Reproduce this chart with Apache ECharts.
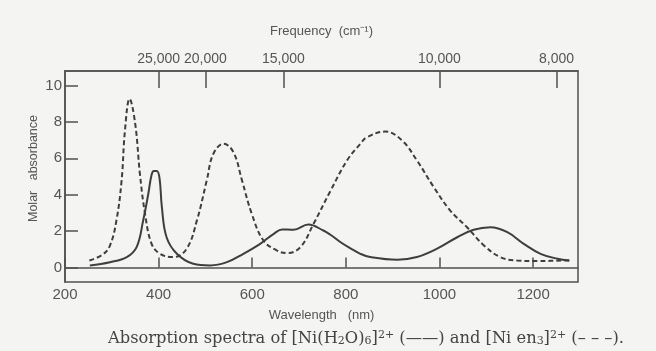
<!DOCTYPE html>
<html><head><meta charset="utf-8">
<script src="https://cdn.jsdelivr.net/npm/echarts@6/dist/echarts.min.js"></script>
<style>html,body{margin:0;padding:0;background:#f4f5f2}#c{width:656px;height:351px}</style>
</head><body><div id="c"></div>
<script>
// [Ni(H2O)6]2+ (solid)
const aquaX = [253, 296, 332, 353, 367, 378, 385, 390, 396, 402, 407, 417, 439, 474, 510, 546, 581, 617, 646, 664, 688, 720, 752, 767, 788, 810, 831, 852, 910, 952, 995, 1038, 1073, 1109, 1145, 1180, 1216, 1252, 1277];
const aquaY = [0.11, 0.29, 0.57, 1.12, 2.58, 4.05, 5.1, 5.3, 5.3, 4.9, 3.3, 1.66, 0.75, 0.2, 0.11, 0.29, 0.75, 1.3, 1.85, 2.09, 2.07, 2.36, 2.03, 1.8, 1.4, 1.05, 0.75, 0.57, 0.42, 0.57, 1.03, 1.66, 2.07, 2.21, 1.94, 1.3, 0.75, 0.48, 0.38];
// [Ni en3]2+ (dashed)
const enX = [252, 280, 296, 310, 321, 328, 338, 350, 360, 371, 385, 403, 432, 460, 482, 503, 517, 539, 560, 578, 599, 624, 653, 674, 703, 731, 767, 803, 831, 845, 884, 920, 952, 988, 1023, 1059, 1095, 1130, 1166, 1209, 1266, 1280];
const enY = [0.38, 0.7, 1.2, 2.6, 4.8, 7.5, 9.27, 7.9, 5.15, 2.95, 1.3, 0.75, 0.57, 1.03, 2.6, 4.8, 6.25, 6.8, 6.33, 4.8, 2.95, 1.48, 0.93, 0.79, 1.12, 2.4, 4.2, 5.9, 6.8, 7.16, 7.47, 6.98, 5.88, 4.41, 3.13, 2.21, 1.21, 0.57, 0.38, 0.35, 0.38, 0.38];
// tick labels
const wlTicks = [200, 400, 600, 800, 1000, 1200];
const freqTicks = [25000, 20000, 15000, 10000, 8000];
const yTicks = [0, 2, 4, 6, 8, 10];

const ink = '#505050';
const textCol = '#555';
const font = 'Liberation Sans';
const chart = echarts.init(document.getElementById('c'), null, {renderer: 'canvas'});
const pair = (xs, ys) => xs.map((x, i) => [x, ys[i]]);
const serif = 'DejaVu Serif';
chart.setOption({
  backgroundColor: '#f4f5f2',
  animation: false,
  title: {
    text: 'Absorption spectra of [Ni(H{s|2}O){s|6}]{p|2+} (——) and [Ni en{s|3}]{p|2+} (– – –).',
    left: 103, top: 325,
    textStyle: {fontFamily: serif, fontSize: 16.3, fontWeight: 'normal', color: '#444',
      rich: {
        s: {fontFamily: serif, fontSize: 11, color: '#444', verticalAlign: 'bottom', padding: [6, 0, 0, 0]},
        p: {fontFamily: serif, fontSize: 11, color: '#444', verticalAlign: 'top', padding: [0, 0, 6, 0]}
      }}
  },
  grid: {left: 65, right: 78, top: 71, bottom: 69, show: true, borderColor: ink, borderWidth: 1.5, backgroundColor: 'transparent'},
  xAxis: [{
    type: 'value', min: 200, max: 1296, position: 'bottom',
    name: 'Wavelength   (nm)', nameLocation: 'middle', nameGap: 27,
    nameTextStyle: {fontFamily: font, fontSize: 13, color: textCol},
    axisLine: {show: true, lineStyle: {color: ink, width: 1.5}},
    axisTick: {show: true, inside: true, length: 10, customValues: wlTicks, lineStyle: {color: ink, width: 1.5}},
    axisLabel: {customValues: wlTicks, fontFamily: font, fontSize: 15, color: textCol, margin: 5, formatter: v => String(v)},
    splitLine: {show: false}
  }, {
    type: 'value', min: 200, max: 1296, position: 'top',
    name: 'Frequency  (cm⁻¹)', nameLocation: 'middle', nameGap: 33,
    nameTextStyle: {fontFamily: font, fontSize: 13, color: textCol},
    axisLine: {show: true, lineStyle: {color: ink, width: 1.5}},
    axisTick: {show: true, inside: true, length: 17, customValues: freqTicks.map(f => 1e7 / f), lineStyle: {color: ink, width: 1.5}},
    axisLabel: {customValues: freqTicks.map(f => 1e7 / f), fontFamily: font, fontSize: 14, color: textCol, margin: 5,
      formatter: v => Math.round(1e7 / v).toLocaleString('en-US')},
    splitLine: {show: false}
  }],
  yAxis: {
    type: 'value', min: -0.8, max: 10.8,
    name: 'Molar   absorbance', nameLocation: 'middle', nameGap: 25, nameRotate: 90, nameMoveOverlap: false,
    nameTextStyle: {fontFamily: font, fontSize: 12.5, color: textCol, padding: [0, 0, 0, 16]},
    axisLine: {show: true, lineStyle: {color: ink, width: 1.5}},
    axisTick: {show: true, inside: true, length: 13, customValues: yTicks, lineStyle: {color: ink, width: 1.5}},
    axisLabel: {customValues: yTicks, fontFamily: font, fontSize: 15, color: textCol, margin: 3},
    splitLine: {show: false}
  },
  series: [{
    type: 'line', name: '[Ni(H2O)6]2+', data: pair(aquaX, aquaY), smooth: 0.4, showSymbol: false,
    lineStyle: {color: '#3e3e3e', width: 2}
  }, {
    type: 'line', name: '[Ni en3]2+', data: pair(enX, enY), smooth: 0.4, showSymbol: false,
    lineStyle: {color: '#3e3e3e', width: 2, type: [5, 3]}
  }]
});
</script></body></html>
